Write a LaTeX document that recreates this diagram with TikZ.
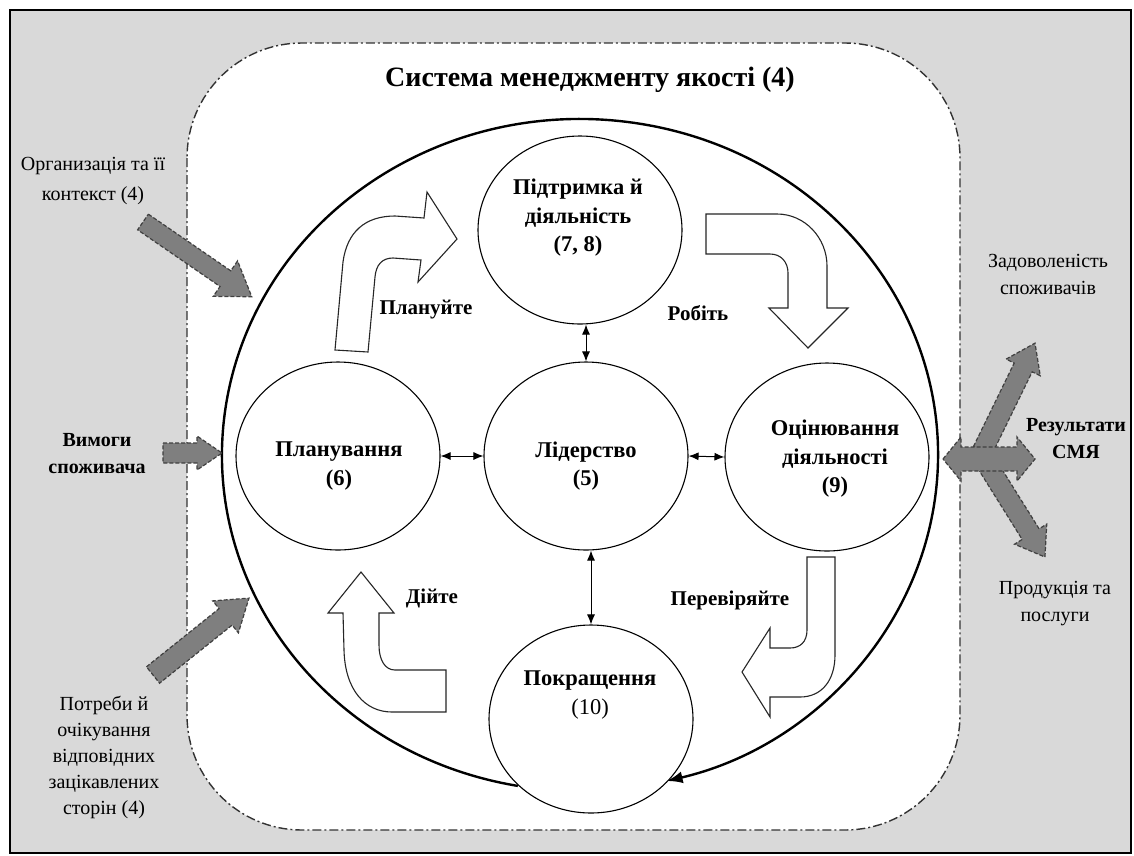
\documentclass[tikz,border=0pt]{standalone}
\usepackage{fontspec}
\setmainfont{Liberation Serif}
\usetikzlibrary{shapes.geometric,arrows.meta,calc}
\definecolor{bgGray}{HTML}{D9D9D9}
\definecolor{arrGray}{HTML}{7F7F7F}
\definecolor{borderGray}{HTML}{333333}
\newcommand\grayarrow[7]{% x, y, angle, length, shaft width, head width, head length
  \begin{scope}[shift={(#1,#2)},rotate=#3]
    \draw[garr] (0,{-(#5)/2}) -- ({#4-#7},{-(#5)/2}) -- ({#4-#7},{-(#6)/2}) -- (#4,0)
      -- ({#4-#7},{(#6)/2}) -- ({#4-#7},{(#5)/2}) -- (0,{(#5)/2}) -- cycle;
  \end{scope}}
\begin{document}
\begin{tikzpicture}[x=1pt,y=-1pt,
  frame/.style={fill=bgGray, draw=black, line width=1.3pt},
  sysbox/.style={fill=white, draw=borderGray, line width=1.4pt, dash pattern=on 9pt off 3pt on 2pt off 3pt, rounded corners=115pt},
  circ/.style={ellipse, draw=black, line width=1.1pt, fill=white, minimum width=204pt, minimum height=188pt, inner sep=0pt},
  ctext/.style={align=center, font=\fontsize{22.5}{28.5}\selectfont\bfseries, inner sep=0pt},
  olabel/.style={align=center, font=\fontsize{20}{27}\selectfont, inner sep=0pt},
  blabel/.style={align=center, font=\fontsize{20}{27}\selectfont\bfseries, inner sep=0pt},
  pdca/.style={font=\fontsize{21}{26}\selectfont\bfseries, inner sep=0pt},
  blockarr/.style={draw=black!85, line width=1.1pt, fill=white, line join=miter},
  garr/.style={fill=arrGray, draw=black!75, line width=1.2pt, dash pattern=on 4pt off 2pt},
  link/.style={line width=1pt, {Latex[length=10pt,width=8pt]}-{Latex[length=10pt,width=8pt]}},
  bigarc/.style={line width=2.4pt, -{Latex[length=16pt,width=12pt]}},
]
\useasboundingbox (0,0) rectangle (1134,855);
\fill[white] (0,0) rectangle (1134,855);
\draw[frame] (10,10) rectangle (1131,853);
\draw[sysbox] (187,43) rectangle (960,830);

\node[font=\fontsize{28}{32}\selectfont\bfseries, inner sep=0pt] (title) at (590,80) {Система менеджменту якості (4)};

% big cycle arc
\coordinate (bigc) at (580,455);
\draw[bigarc] ($(bigc)+(100:358 and 336)$) arc[start angle=100,end angle=436,x radius=358,y radius=336];

% PDCA block arrows
\draw[blockarr] (335,350) -- (343,262) .. controls (347,232) and (365,216) .. (395,216) -- (424,218) -- (427,192) -- (457,239) -- (418,282) -- (421,260) -- (393,258) .. controls (382,258) and (376,265) .. (375,277) -- (368,352) -- cycle;
\draw[blockarr] (706,214) -- (777,214) .. controls (805,214) and (827,238) .. (827,266) -- (827,308) -- (848,308) -- (808,348) -- (769,308) -- (788,308) -- (788,273) .. controls (788,262) and (781,254) .. (770,254) -- (706,254) -- cycle;
\draw[blockarr] (807,557) -- (835,557) -- (835,655) .. controls (835,680) and (822,697) .. (800,697) -- (770,697) -- (770,717) -- (742,672) -- (770,628) -- (770,648) -- (790,648) .. controls (800,648) and (807,642) .. (807,630) -- cycle;
\draw[blockarr] (361,572) -- (394,613) -- (379,613) -- (379,645) .. controls (379,660) and (385,670) .. (395,670) -- (446,670) -- (446,712) -- (392,712) .. controls (365,712) and (345,690) .. (344,650) -- (343,613) -- (328,613) -- cycle;

% circles
\node[circ] (sup) at (580,230) {};
\node[circ] (plan) at (338,456) {};
\node[circ] (lead) at (586,456) {};
\node[circ] (eval) at (827,457) {};
\node[circ] (impr) at (591,719) {};

\node[ctext] (supt) at (578,218) {Підтримка й\\діяльність\\(7, 8)};
\node[ctext] (plant) at (339,466) {Планування\\(6)};
\node[ctext] (leadt) at (586,466) {Лідерство\\(5)};
\node[ctext] (evalt) at (835,459) {Оцінювання\\діяльності\\(9)};
\node[ctext] (imprt) at (590,695) {Покращення\\\mdseries(10)};

\draw[link] (lead.north |- sup.south) -- (lead.north);
\draw[link] (impr.north |- lead.south) -- (impr.north);
\draw[link] (plan.east) -- (lead.west);
\draw[link] (lead.east) -- (eval.west);

% PDCA labels
\node[pdca] (lp) at (426,310) {Плануйте};
\node[pdca] (ld) at (698,313) {Робіть};
\node[pdca] (la) at (432,598) {Дійте};
\node[pdca] (lc) at (730,600) {Перевіряйте};

% gray input arrows
\grayarrow{143}{222}{-34.5}{132}{19}{43}{32}
\grayarrow{163}{453}{0}{59}{20}{34}{25}
\grayarrow{153}{675}{38.7}{123}{21}{41}{30}

% gray output arrows
\grayarrow{982.4}{451}{64}{120}{20}{38}{27}
\grayarrow{984}{459.5}{-58}{115}{20}{38}{27}
\draw[garr] (943,459) -- (961,437) -- (961,447) -- (1017,447) -- (1017,437) -- (1035,459) -- (1017,481) -- (1017,471) -- (961,471) -- (961,481) -- cycle;

% outside labels
\node[olabel] (org) at (93,181) {Организація та її\\[3pt]контекст (4)};
\node[blabel] (vim) at (97,454) {Вимоги\\споживача};
\node[olabel, font=\fontsize{20}{26}\selectfont] (potr) at (104,757) {Потреби й\\очікування\\відповідних\\зацікавлених\\сторін (4)};
\node[olabel] (zad) at (1048,274) {Задоволеність\\споживачів};
\node[blabel] (res) at (1076,439) {Результати\\СМЯ};
\node[olabel] (prod) at (1055,604) {Продукція та\\послуги};
\end{tikzpicture}
\end{document}
